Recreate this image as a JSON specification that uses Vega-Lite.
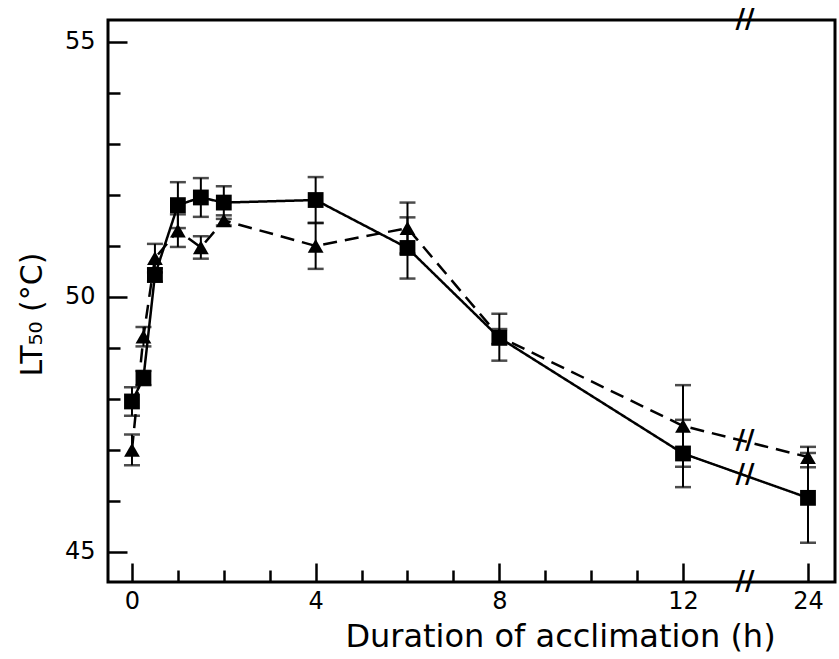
{
  "$schema": "https://vega.github.io/schema/vega-lite/v6.json",
  "autosize": {"type": "none"},
  "width": 727,
  "height": 562,
  "padding": {"left": 108, "top": 20, "right": 4, "bottom": 77},
  "background": "white",
  "config": {
    "view": {"stroke": "black", "strokeWidth": 3},
    "font": "DejaVu Sans"
  },
  "datasets": {
    "lt50": [
      {"series": "square", "t": 0, "lt": 47.95, "lo": 47.67, "hi": 48.23},
      {"series": "square", "t": 0.25, "lt": 48.41, "lo": 48.27, "hi": 48.55},
      {"series": "square", "t": 0.5, "lt": 50.43, "lo": 50.3, "hi": 50.56},
      {"series": "square", "t": 1, "lt": 51.8, "lo": 51.35, "hi": 52.25},
      {"series": "square", "t": 1.5, "lt": 51.95, "lo": 51.57, "hi": 52.33},
      {"series": "square", "t": 2, "lt": 51.85, "lo": 51.53, "hi": 52.17},
      {"series": "square", "t": 4, "lt": 51.9, "lo": 51.45, "hi": 52.35},
      {"series": "square", "t": 6, "lt": 50.96, "lo": 50.36, "hi": 51.56},
      {"series": "square", "t": 8, "lt": 49.2, "lo": 48.75, "hi": 49.67},
      {"series": "square", "t": 12, "lt": 46.93, "lo": 46.27, "hi": 47.59},
      {"series": "square", "t": 24, "lt": 46.06, "lo": 45.18, "hi": 46.94},
      {"series": "triangle", "t": 0, "lt": 47.0, "lo": 46.7, "hi": 47.3},
      {"series": "triangle", "t": 0.25, "lt": 49.22, "lo": 49.03, "hi": 49.41},
      {"series": "triangle", "t": 0.5, "lt": 50.76, "lo": 50.48, "hi": 51.04},
      {"series": "triangle", "t": 1, "lt": 51.3, "lo": 50.98, "hi": 51.62},
      {"series": "triangle", "t": 1.5, "lt": 50.97, "lo": 50.75, "hi": 51.19},
      {"series": "triangle", "t": 2, "lt": 51.5, "lo": 51.4, "hi": 51.6},
      {"series": "triangle", "t": 4, "lt": 51.0, "lo": 50.55, "hi": 51.45},
      {"series": "triangle", "t": 6, "lt": 51.35, "lo": 50.85, "hi": 51.85},
      {"series": "triangle", "t": 8, "lt": 49.22, "lo": 49.07, "hi": 49.37},
      {"series": "triangle", "t": 12, "lt": 47.47, "lo": 46.67, "hi": 48.27},
      {"series": "triangle", "t": 24, "lt": 46.86, "lo": 46.66, "hi": 47.06}
    ],
    "breaks": [
      {"t": 17.95, "lt": 55.43},
      {"t": 17.95, "lt": 44.41},
      {"t": 17.95, "lt": 47.17},
      {"t": 17.95, "lt": 46.5}
    ]
  },
  "encoding": {
    "x": {
      "field": "t",
      "type": "quantitative",
      "scale": {"domain": [-0.522, 12, 24, 26.59], "range": [0, 575, 700, 727], "nice": false, "zero": false},
      "axis": {
        "values": [0, 1, 2, 3, 4, 5, 6, 7, 8, 9, 10, 11, 12, 24],
        "labelExpr": "datum.value % 4 === 0 ? datum.label : ''",
        "domain": false,
        "grid": false,
        "tickColor": "black",
        "tickWidth": 2.5,
        "tickSize": {"condition": {"test": "datum.value % 4 === 0", "value": -19}, "value": -12},
        "labelPadding": 26,
        "labelFontSize": 24,
        "labelColor": "black",
        "labelFlush": false,
        "labelOverlap": false,
        "title": "Duration of acclimation (h)",
        "titleFontSize": 32,
        "titleFontWeight": "normal",
        "titleColor": "black",
        "titleX": 452,
        "titleAnchor": "middle",
        "titlePadding": 1
      }
    },
    "y": {
      "field": "lt",
      "type": "quantitative",
      "scale": {"domain": [44.41, 55.43], "nice": false, "zero": false},
      "axis": {
        "values": [45, 46, 47, 48, 49, 50, 51, 52, 53, 54, 55],
        "labelExpr": "datum.value % 5 === 0 ? datum.label : ''",
        "domain": false,
        "grid": false,
        "tickColor": "black",
        "tickWidth": 2.5,
        "tickSize": {"condition": {"test": "datum.value % 5 === 0", "value": -19}, "value": -12},
        "labelPadding": 32,
        "labelFontSize": 24,
        "labelColor": "black",
        "labelOverlap": false,
        "title": "LT₅₀ (°C)",
        "titleFontSize": 30,
        "titleFontWeight": "normal",
        "titleColor": "black",
        "titleY": 294,
        "titleAnchor": "middle",
        "titlePadding": 17
      }
    }
  },
  "layer": [
    {
      "data": {"name": "lt50"},
      "mark": {"type": "line", "color": "black", "strokeWidth": 2.5},
      "encoding": {
        "strokeDash": {"field": "series", "type": "nominal", "scale": {"domain": ["square", "triangle"], "range": [[1, 0], [14, 8]]}, "legend": null}
      }
    },
    {
      "data": {"name": "lt50"},
      "mark": {"type": "errorbar", "ticks": {"size": 16, "color": "black", "thickness": 2.5}, "rule": {"color": "black", "strokeWidth": 2}},
      "encoding": {
        "y": {"field": "lo", "type": "quantitative"},
        "y2": {"field": "hi"},
        "detail": {"field": "series"}
      }
    },
    {
      "data": {"name": "lt50"},
      "mark": {"type": "point", "filled": true, "color": "black", "opacity": 1},
      "encoding": {
        "shape": {"field": "series", "type": "nominal", "scale": {"domain": ["square", "triangle"], "range": ["square", "triangle-up"]}, "legend": null},
        "size": {"value": 250}
      }
    },
    {
      "data": {"name": "breaks"},
      "mark": {"type": "text", "text": "//", "fontSize": 26, "fontWeight": "bold", "color": "black", "baseline": "middle", "align": "center"}
    }
  ]
}
